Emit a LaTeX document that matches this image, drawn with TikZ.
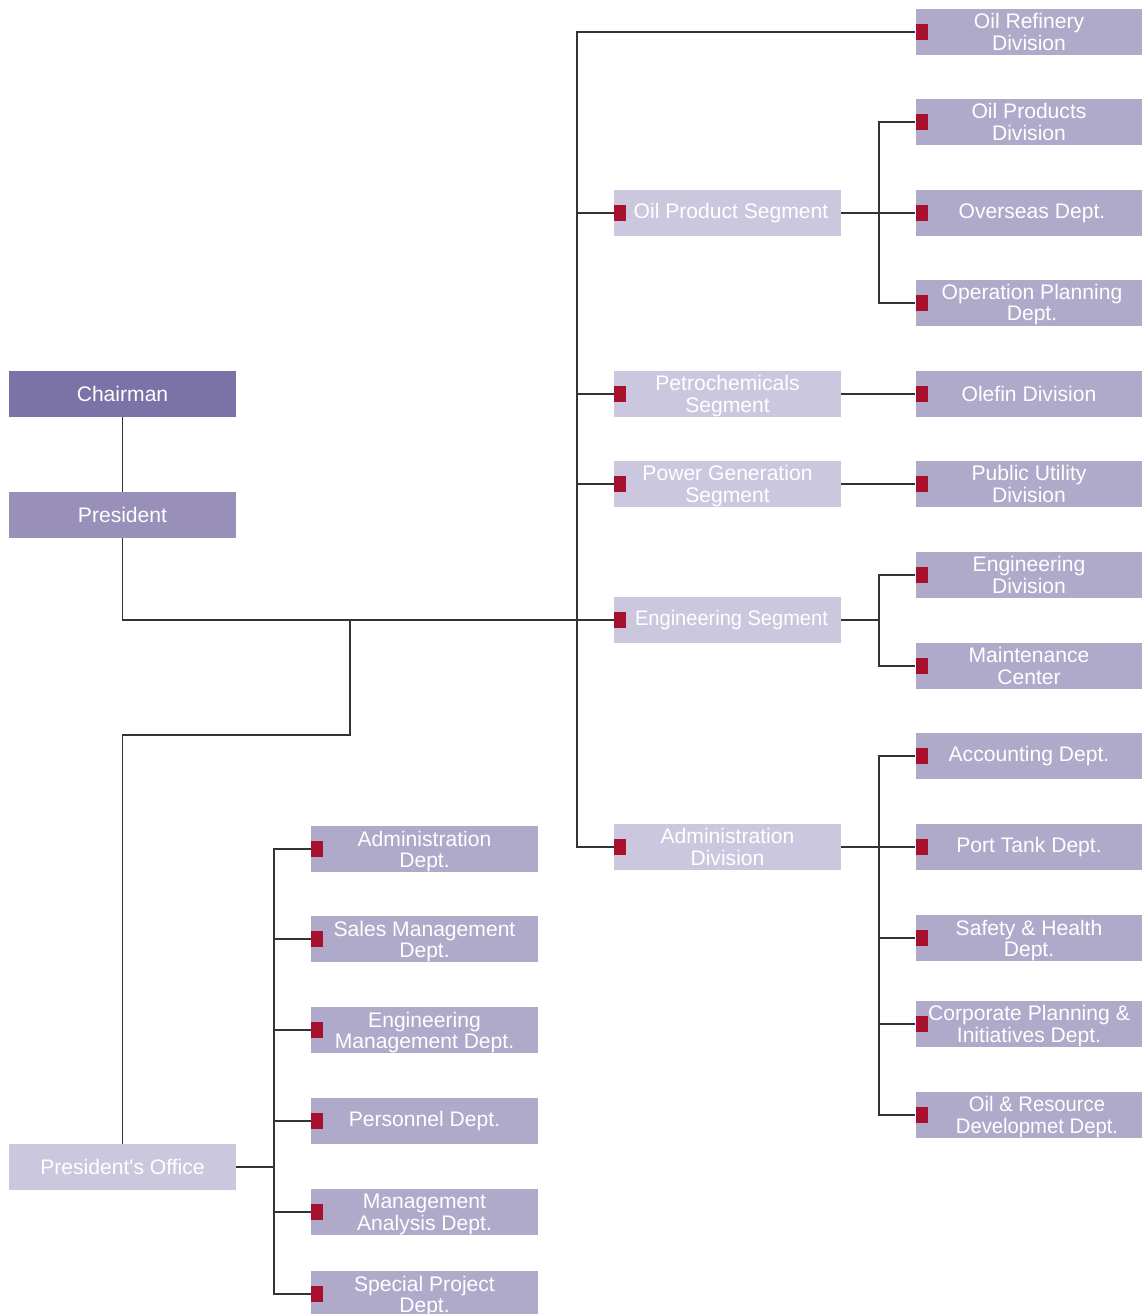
\documentclass[tikz,border=0pt]{standalone}
\usepackage{fontspec}
\setmainfont{Liberation Sans}
\definecolor{chairfill}{HTML}{7B72A8}
\definecolor{presfill}{HTML}{9990BA}
\definecolor{lightfill}{HTML}{CBC7DF}
\definecolor{unitfill}{HTML}{AFA9CA}
\definecolor{markred}{HTML}{A8112E}
\definecolor{linegray}{HTML}{333333}
% indent a label line so that it sits a little right of centre
\newcommand\nudge[1]{\hspace*{#1}}
% two centred lines, set a little low in their box
\newcommand\pair[2]{\raisebox{-3pt}[\height][\depth]{%
  \begin{tabular}{@{}c@{}}#1\\#2\end{tabular}}}
\begin{document}
\begin{tikzpicture}[x=1pt,y=-1pt,
  box/.style={minimum width=227pt, minimum height=46pt, inner sep=0pt,
    text=white, align=center, font=\fontsize{21.1}{21}\selectfont},
  chairbox/.style={box, fill=chairfill},
  presbox/.style={box, fill=presfill},
  segbox/.style={box, fill=lightfill},
  unitbox/.style={box, fill=unitfill},
  marked/.style={path picture={\fill[markred]
      ([yshift=-8pt]path picture bounding box.west) rectangle
      ([xshift=12pt,yshift=8pt]path picture bounding box.west);}},
  conn/.style={draw=linegray, line width=1.2pt}]
\clip (0,0) rectangle (1142,1314);
\useasboundingbox (0,0) rectangle (1142,1314);

% executive column
\node[chairbox] (chair) at (122.5,394) {Chairman};
\node[presbox] (pres) at (122.5,515) {President};
\node[segbox] (office) at (122.5,1167) {President\textquotesingle s Office};

% segments
\node[segbox,marked] (opseg) at (727.5,213) {\nudge{7pt}Oil Product Segment};
\node[segbox,marked] (petseg) at (727.5,394) {\pair{Petrochemicals}{Segment}};
\node[segbox,marked] (powseg) at (727.5,484) {\pair{Power Generation}{Segment}};
\node[segbox,marked] (engseg) at (727.5,620) {\nudge{8pt}\scalebox{0.95}[1]{Engineering Segment}};
\node[segbox,marked] (admdiv) at (727.5,847) {\pair{Administration}{Division}};

% divisions and departments
\node[unitbox,marked] (refinery) at (1029,32) {\pair{Oil Refinery}{Division}};
\node[unitbox,marked] (oilprod) at (1029,122) {\pair{Oil Products}{Division}};
\node[unitbox,marked] (overseas) at (1029,213) {\nudge{6pt}Overseas Dept.};
\node[unitbox,marked] (opplan) at (1029,303) {\pair{\nudge{6pt}Operation Planning}{\nudge{6pt}Dept.}};
\node[unitbox,marked] (olefin) at (1029,394) {Olefin Division};
\node[unitbox,marked] (utility) at (1029,484) {\pair{Public Utility}{Division}};
\node[unitbox,marked] (engdiv) at (1029,575) {\pair{Engineering}{Division}};
\node[unitbox,marked] (maint) at (1029,666) {\pair{Maintenance}{Center}};
\node[unitbox,marked] (acct) at (1029,756) {Accounting Dept.};
\node[unitbox,marked] (porttank) at (1029,847) {Port Tank Dept.};
\node[unitbox,marked] (safety) at (1029,938) {\pair{Safety \& Health}{Dept.}};
\node[unitbox,marked] (corpplan) at (1029,1024) {\pair{Corporate Planning \&}{Initiatives Dept.}};
\node[unitbox,marked] (oilres) at (1029,1115) {\pair{\nudge{16pt}\scalebox{0.96}[1]{Oil \& Resource}}{\nudge{16pt}\scalebox{0.96}[1]{Developmet Dept.}}};

% president's office departments
\node[unitbox,marked] (admdept) at (424.5,849) {\pair{Administration}{Dept.}};
\node[unitbox,marked] (salesdept) at (424.5,939) {\pair{Sales Management}{Dept.}};
\node[unitbox,marked] (engmgmt) at (424.5,1030) {\pair{Engineering}{Management Dept.}};
\node[unitbox,marked] (personnel) at (424.5,1121) {Personnel Dept.};
\node[unitbox,marked] (analysis) at (424.5,1212) {\pair{Management}{Analysis Dept.}};
\node[unitbox,marked] (special) at (424.5,1294) {\pair{Special Project}{Dept.}};

% bus positions
\coordinate (segbus) at (577,0);
\coordinate (unitbus) at (879,0);
\coordinate (offbus) at (274,0);
\coordinate (split) at (350,735);

% executive links
\draw[conn] (chair.south) -- (pres.north);
\draw[conn] (pres.south) |- (engseg.west);
\draw[conn] (split |- engseg.west) -- (split) -| (office.north);

% segment bus
\draw[conn] (refinery.west) -- (refinery.west -| segbus) -- (admdiv.west -| segbus) -- (admdiv.west);
\draw[conn] (opseg.west) -- (opseg.west -| segbus);
\draw[conn] (petseg.west) -- (petseg.west -| segbus);
\draw[conn] (powseg.west) -- (powseg.west -| segbus);

% oil product segment
\draw[conn] (opseg.east) -- (overseas.west);
\draw[conn] (oilprod.west) -- (oilprod.west -| unitbus) -- (opplan.west -| unitbus) -- (opplan.west);

% single links
\draw[conn] (petseg.east) -- (olefin.west);
\draw[conn] (powseg.east) -- (utility.west);

% engineering segment
\draw[conn] (engseg.east) -- (engseg.east -| unitbus);
\draw[conn] (engdiv.west) -- (engdiv.west -| unitbus) -- (maint.west -| unitbus) -- (maint.west);

% administration division
\draw[conn] (admdiv.east) -- (porttank.west);
\draw[conn] (acct.west) -- (acct.west -| unitbus) -- (oilres.west -| unitbus) -- (oilres.west);
\draw[conn] (safety.west) -- (safety.west -| unitbus);
\draw[conn] (corpplan.west) -- (corpplan.west -| unitbus);

% president's office
\draw[conn] (office.east) -- (office.east -| offbus);
\draw[conn] (admdept.west) -- (admdept.west -| offbus) -- (special.west -| offbus) -- (special.west);
\draw[conn] (salesdept.west) -- (salesdept.west -| offbus);
\draw[conn] (engmgmt.west) -- (engmgmt.west -| offbus);
\draw[conn] (personnel.west) -- (personnel.west -| offbus);
\draw[conn] (analysis.west) -- (analysis.west -| offbus);
\end{tikzpicture}
\end{document}
